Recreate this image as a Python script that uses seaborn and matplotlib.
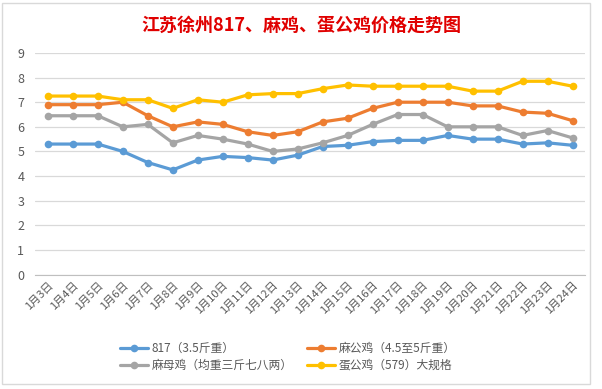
import numpy as np
import pandas as pd
import matplotlib
matplotlib.use("Agg")
import matplotlib.pyplot as plt
import seaborn as sns
from matplotlib.patches import Rectangle

# data
dates = ["1月3日", "1月4日", "1月5日", "1月6日", "1月7日", "1月8日", "1月9日", "1月10日",
         "1月11日", "1月12日", "1月13日", "1月14日", "1月15日", "1月16日", "1月17日",
         "1月18日", "1月19日", "1月20日", "1月21日", "1月22日", "1月23日", "1月24日"]

price_817 = [5.3, 5.3, 5.3, 5.0, 4.55, 4.25, 4.65, 4.8, 4.75, 4.65, 4.85,
             5.2, 5.25, 5.4, 5.45, 5.45, 5.65, 5.5, 5.5, 5.3, 5.35, 5.25]
ma_gong = [6.9, 6.9, 6.9, 7.0, 6.45, 6.0, 6.2, 6.1, 5.8, 5.65, 5.8,
           6.2, 6.35, 6.75, 7.0, 7.0, 7.0, 6.85, 6.85, 6.6, 6.55, 6.25]
ma_mu = [6.45, 6.45, 6.45, 6.0, 6.1, 5.35, 5.65, 5.5, 5.3, 5.0, 5.1,
         5.35, 5.65, 6.1, 6.5, 6.5, 6.0, 6.0, 6.0, 5.65, 5.85, 5.55]
dan_gong = [7.25, 7.25, 7.25, 7.1, 7.1, 6.75, 7.1, 7.0, 7.3, 7.35, 7.35,
            7.55, 7.7, 7.65, 7.65, 7.65, 7.65, 7.45, 7.45, 7.85, 7.85, 7.65]

series_names = ["817（3.5斤重）", "麻公鸡（4.5至5斤重）", "麻母鸡（均重三斤七八两）", "蛋公鸡（579）大规格"]
colors = ["#5B9BD5", "#ED7D31", "#A5A5A5", "#FFC000"]

rows = []
for name, vals in zip(series_names, [price_817, ma_gong, ma_mu, dan_gong]):
    for i, v in enumerate(vals):
        rows.append({"idx": i, "price": v, "series": name})
df = pd.DataFrame(rows)

sns.set_style("white")
plt.rcParams["font.family"] = ["Noto Sans CJK SC", "DejaVu Sans"]

fig = plt.figure(figsize=(6.02, 3.89), dpi=100)
ax = fig.add_axes([0.0588, 0.2943, 0.913, 0.5695])

sns.lineplot(data=df, x="idx", y="price", hue="series", palette=colors,
             hue_order=series_names, marker="o", markersize=5.5, markeredgewidth=0,
             linewidth=2.3, ax=ax, legend=False)

ax.set_xlim(-0.5, len(dates) - 0.5)
ax.set_ylim(0, 9)
ax.set_yticks(range(0, 10))
ax.yaxis.grid(True, color="#D9D9D9", linewidth=0.9)
ax.set_axisbelow(True)
for s in ["top", "right", "left"]:
    ax.spines[s].set_visible(False)
ax.spines["bottom"].set_color("#BFBFBF")
ax.set_xlabel("")
ax.set_ylabel("")

ax.set_xticks(range(len(dates)))
ax.set_xticklabels(dates, rotation=45, ha="right", rotation_mode="anchor",
                   fontsize=8, color="#595959")
ax.set_xticks(np.arange(-0.5, len(dates), 1), minor=True)
ax.tick_params(axis="x", which="major", length=0, pad=4)
ax.tick_params(axis="x", which="minor", length=4, color="#BFBFBF", direction="out")
ax.tick_params(axis="y", length=0, labelsize=9, labelcolor="#595959", pad=8)

fig.text(0.5, 0.935, "江苏徐州817、麻鸡、蛋公鸡价格走势图", ha="center", va="center",
         fontsize=13, fontweight="bold", color="#E00000")

handles = [plt.Line2D([], [], color=c, marker="o", markersize=5.5, markeredgewidth=0,
                      linewidth=2.3) for c in colors]
order = [0, 2, 1, 3]
fig.legend([handles[i] for i in order], [series_names[i] for i in order],
           ncol=2, loc="center", bbox_to_anchor=(0.478, 0.082), frameon=False,
           fontsize=8.5, labelcolor="#595959", handlelength=2.4, columnspacing=1.2,
           handletextpad=0.3, labelspacing=0.3)

fig.patches.append(Rectangle((0.004, 0.013), 0.976, 0.98, transform=fig.transFigure,
                             fill=False, edgecolor="#D9D9D9", linewidth=1))

fig.savefig("out.png", dpi=100)
